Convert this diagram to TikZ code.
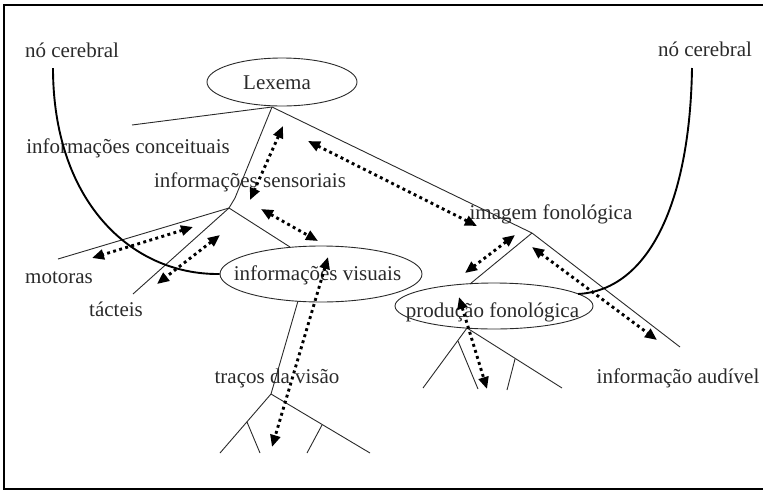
\documentclass[tikz,border=0pt]{standalone}
\usepackage{fontspec}
\setmainfont{Liberation Serif}
\usetikzlibrary{arrows.meta,shapes.geometric}
\definecolor{ink}{HTML}{2A2A2A}
\begin{document}
\begin{tikzpicture}[x=1pt,y=-1pt,
  lbl/.style={anchor=base, inner sep=0pt, text=ink, font=\fontsize{21}{24}\selectfont},
  bubble/.style={ellipse, draw=ink, line width=0.9pt, inner sep=0pt, text=ink,
    font=\fontsize{21}{24}\selectfont, text depth=0pt},
  branch/.style={draw=ink, line width=0.9pt},
  nerve/.style={draw=black, line width=1.9pt},
  link/.style={draw=black, line width=2.9pt, dash pattern=on 2.9pt off 3.4pt,
    {Triangle[length=12pt,width=10pt]}-{Triangle[length=12pt,width=10pt]}},
]
\useasboundingbox (0,0) rectangle (763,491);

% frame (open on the right)
\draw[line width=2.6pt] (763,5) -- (4,5) -- (4,489) -- (763,489);

% ellipse nodes
\node[bubble, minimum width=150pt, minimum height=48pt, text height=14pt] (lex) at (282,82)
  {\makebox[0pt]{\kern-10pt Lexema}};
\node[bubble, minimum width=202pt, minimum height=56pt, text height=12pt] (vis) at (321,274)
  {\makebox[0pt]{\kern-7pt informações visuais}};
\node[bubble, minimum width=198pt, minimum height=46pt, text height=22pt] (prod) at (494,306)
  {\makebox[0pt]{\kern-3pt produção fonológica}};

% labels
\node[lbl] (nol) at (72,57) {nó cerebral};
\node[lbl] (nor) at (705,56) {nó cerebral};
\node[lbl] (conc) at (128,153) {informações conceituais};
\node[lbl] (sensl) at (250,187) {informações sensoriais};
\node[lbl] (fonl) at (551,219) {imagem fonológica};
\node[lbl] (mot) at (59,283) {motoras};
\node[lbl] (tac) at (116,316) {tácteis};
\node[lbl] (trl) at (277,383) {traços da visão};
\node[lbl] (aud) at (678,383) {informação audível};

% junctions and branch ends
\coordinate (lexfoot) at (272,107);
\coordinate (concend) at (132,125);
\coordinate (kink) at (235,198);
\coordinate (sens) at (229,208);
\coordinate (fono) at (532,233);
\coordinate (audend) at (680,347);
\coordinate (prodtop) at (470,284);
\coordinate (motend) at (58,259);
\coordinate (tacend) at (133,294);
\coordinate (vistop) at (290,247);
\coordinate (visbot) at (298,301);
\coordinate (trac) at (271,394);
\coordinate (trA) at (220,453);
\coordinate (trB) at (370,453);
\coordinate (trAb) at (247,422);
\coordinate (trAe) at (260,453);
\coordinate (trBb) at (322,425);
\coordinate (trBe) at (307,453);
\coordinate (prodfoot) at (467,328);
\coordinate (pA) at (423,388);
\coordinate (pB) at (562,388);
\coordinate (pAb) at (458,341);
\coordinate (pAe) at (478,389);
\coordinate (pBb) at (515,359);
\coordinate (pBe) at (507,390);

% tree branches
\draw[branch] (lexfoot) -- (concend);
\draw[branch] (lexfoot) -- (kink) -- (sens);
\draw[branch] (lexfoot) -- (fono) -- (audend);
\draw[branch] (fono) -- (prodtop);
\draw[branch] (sens) -- (motend);
\draw[branch] (sens) -- (tacend);
\draw[branch] (sens) -- (vistop);
\draw[branch] (visbot) -- (trac);
\draw[branch] (trac) -- (trA);
\draw[branch] (trac) -- (trB);
\draw[branch] (trAb) -- (trAe);
\draw[branch] (trBb) -- (trBe);
\draw[branch] (prodfoot) -- (pA);
\draw[branch] (prodfoot) -- (pB);
\draw[branch] (pAb) -- (pAe);
\draw[branch] (pBb) -- (pBe);

% brain nodes
\coordinate (nlstart) at (53,68);
\coordinate (nrstart) at (692,68);
\coordinate (nrend) at (578,294);
\draw[nerve] (nlstart) .. controls (53,200) and (130,275) .. (vis.west);
\draw[nerve] (nrstart) .. controls (690,200) and (650,290) .. (nrend);

% dotted two-way links
\coordinate (a1s) at (283,126);  \coordinate (a1e) at (250,200);
\coordinate (a2s) at (308,141);  \coordinate (a2e) at (477,226);
\coordinate (a3s) at (261,209);  \coordinate (a3e) at (318,241);
\coordinate (a4s) at (193,227);  \coordinate (a4e) at (92,258);
\coordinate (a5s) at (220,235);  \coordinate (a5e) at (157,284);
\coordinate (a6s) at (328,257);  \coordinate (a6e) at (272,447);
\coordinate (a7s) at (515,235);  \coordinate (a7e) at (465,273);
\coordinate (a8s) at (532,247);  \coordinate (a8e) at (657,340);
\coordinate (a9s) at (459,297);  \coordinate (a9e) at (487,389);
\foreach \k in {1,...,9} {\draw[link] (a\k s) -- (a\k e);}
\end{tikzpicture}
\end{document}
